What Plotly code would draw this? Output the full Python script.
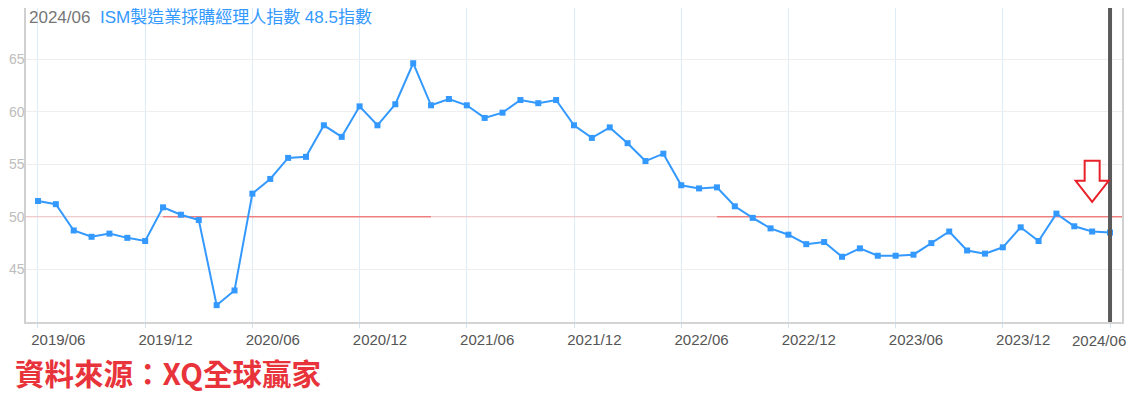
import plotly.graph_objects as go

# monthly ISM manufacturing PMI, 2019/06 .. 2024/06
months = [f"{y}/{m:02d}" for y in range(2019, 2025) for m in range(1, 13)]
months = months[months.index("2019/06"):months.index("2024/06") + 1]

pmi = [
    51.5, 51.2, 48.7, 48.1, 48.4, 48.0, 47.7,
    50.9, 50.2, 49.7, 41.6, 43.0, 52.2, 53.6, 55.6, 55.7, 58.7, 57.6, 60.5,
    58.7, 60.7, 64.6, 60.6, 61.2, 60.6, 59.4, 59.9, 61.1, 60.8, 61.1, 58.7,
    57.5, 58.5, 57.0, 55.3, 56.0, 53.0, 52.7, 52.8, 51.0, 49.9, 48.9, 48.3,
    47.4, 47.6, 46.2, 47.0, 46.3, 46.3, 46.4, 47.5, 48.6, 46.8, 46.5, 47.1,
    49.0, 47.7, 50.3, 49.1, 48.6, 48.5,
]

tick_months = months[::6]
y_ticks = [45, 50, 55, 60, 65]
threshold = 50
# where the 50 reference line changes shade
ref_breaks = ["2020/01", "2021/04", "2022/08"]

title_date = "2024/06"
title_name = "ISM製造業採購經理人指數"
title_value = "48.5指數"
source_text = "資料來源：XQ全球贏家"

idx = list(range(len(months)))
x_lo, x_hi = -0.67, len(months) - 1 + 0.67

fig = go.Figure()

fig.add_trace(go.Scatter(
    x=idx, y=pmi,
    mode="lines+markers",
    line=dict(color="#3399ff", width=2),
    marker=dict(symbol="square", size=6, color="#3399ff"),
    hoverinfo="y",
    showlegend=False,
))

# 50 reference line, drawn in alternating shades
edges = [x_lo] + [months.index(m) for m in ref_breaks] + [x_hi]
for i in range(len(edges) - 1):
    strong = i % 2 == 1
    fig.add_shape(
        type="line", xref="x", yref="y",
        x0=edges[i], x1=edges[i + 1], y0=threshold, y1=threshold,
        line=dict(color="rgba(238,90,90,0.75)" if strong else "rgba(240,120,120,0.4)",
                  width=1.5 if strong else 1),
        layer="between",
    )

# dark marker on latest month
fig.add_shape(
    type="line", xref="x", yref="paper",
    x0=idx[-1], x1=idx[-1], y0=0, y1=1,
    line=dict(color="#5a5a5a", width=4),
)

# hollow red down arrow above the latest readings
fig.add_shape(
    type="path", xref="x", yref="y",
    xsizemode="pixel", ysizemode="pixel",
    xanchor=months.index("2024/05"), yanchor=threshold,
    path="M -7.5,56 L 7.5,56 L 7.5,36 L 16.5,36 L 0,15 L -16.5,36 L -7.5,36 Z",
    line=dict(color="#e8202a", width=2),
    fillcolor="white",
)

fig.add_annotation(
    xref="paper", yref="paper", x=0, y=1, xanchor="left", yanchor="top",
    xshift=1, yshift=2, showarrow=False,
    text=(f"<span style='color:#777'>{title_date}</span>&nbsp;&nbsp;"
          f"<span style='color:#3399ff'>{title_name} {title_value}</span>"),
    font=dict(size=17, family="Liberation Sans, Noto Sans CJK TC"),
)

# last x label sits flush with the right edge
fig.add_annotation(
    xref="x", yref="paper", x=idx[-1], y=0, xanchor="right", yanchor="top",
    xshift=18, yshift=-8, showarrow=False,
    text=months[-1],
    font=dict(size=15, family="Liberation Sans", color="#555"),
)

fig.add_annotation(
    xref="paper", yref="paper", x=0, y=0, xanchor="left", yanchor="middle",
    xshift=-13, yshift=-50, showarrow=False,
    text=f"<b>{source_text}</b>",
    font=dict(size=29.5, family="Noto Sans CJK TC", color="#e8333a"),
)

# the page puts the figure 8px in from the top-left corner
fig.update_layout(
    width=1120, height=395,
    margin=dict(l=18, r=6, t=0, b=81),
    paper_bgcolor="white", plot_bgcolor="white",
    xaxis=dict(
        range=[x_lo, x_hi],
        automargin=False,
        tickvals=[months.index(m) for m in tick_months],
        ticktext=[m if m != months[-1] else "" for m in tick_months],
        ticklabelposition="outside right",
        ticklabelshift=-8,
        ticklabelstandoff=3,
        ticks="outside", ticklen=4, tickcolor="#cfe3f3",
        tickfont=dict(size=15, family="Liberation Sans", color="#555"),
        showgrid=True, gridcolor="#dcedf9", gridwidth=1,
        showline=True, linecolor="#d4d4d4", linewidth=1.5, mirror=True,
        zeroline=False,
    ),
    yaxis=dict(
        range=[40, 69.85],
        automargin=False,
        tickvals=y_ticks,
        ticks="",
        ticklabelstandoff=-3,
        tickfont=dict(size=14, family="Liberation Sans", color="#bdbdbd"),
        showgrid=True, gridcolor="#eeeeee", gridwidth=1,
        showline=True, linecolor="#d0d0d0", linewidth=1.5, mirror=True,
        zeroline=False,
    ),
)

fig.write_html("out.html")
